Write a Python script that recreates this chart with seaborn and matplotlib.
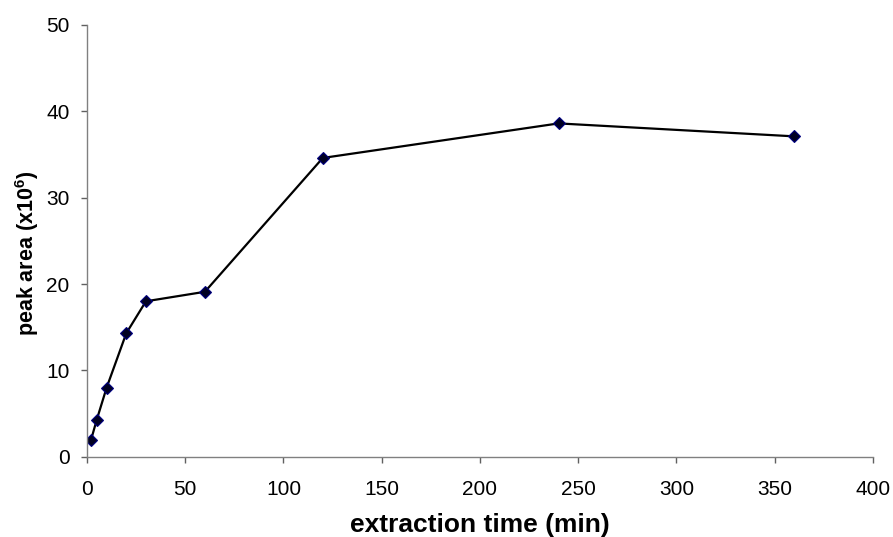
import pandas as pd
import seaborn as sns
import matplotlib
matplotlib.use('Agg')
import matplotlib.pyplot as plt

# values
time_min = [2, 5, 10, 20, 30, 60, 120, 240, 360]
peak_area = [1.9, 4.3, 8.0, 14.3, 18.0, 19.1, 34.6, 38.6, 37.1]

df = pd.DataFrame({'time': time_min, 'area': peak_area})

sns.set_style('ticks')
plt.rcParams['font.family'] = ['Liberation Sans', 'DejaVu Sans']
plt.rcParams['mathtext.fontset'] = 'custom'
plt.rcParams['mathtext.rm'] = 'Liberation Sans'
plt.rcParams['mathtext.bf'] = 'Liberation Sans:bold'

fig = plt.figure(figsize=(8.93, 5.37), dpi=100)
ax = fig.add_axes([0.0974, 0.1495, 0.8802, 0.804])

sns.lineplot(data=df, x='time', y='area', ax=ax, color='black', lw=1.6,
             marker='D', markersize=6, markerfacecolor='#000022',
             markeredgecolor='#000080', markeredgewidth=0.8)

ax.set_xlim(0, 400)
ax.set_ylim(0, 50)
ax.set_xticks(range(0, 401, 50))
ax.set_yticks(range(0, 51, 10))

for side in ['top', 'right']:
    ax.spines[side].set_visible(False)
for side in ['left', 'bottom']:
    ax.spines[side].set_color('#808080')
    ax.spines[side].set_linewidth(1.0)

ax.tick_params(axis='both', direction='out', length=4.5, width=1.0,
               color='#606060', labelsize=15, labelcolor='black')
ax.tick_params(axis='x', pad=12)
ax.tick_params(axis='y', pad=8)

ax.set_xlabel('extraction time (min)', fontsize=19, fontweight='bold',
              labelpad=10, color='black')
ax.set_ylabel(r'peak area (x10$^{\mathbf{6}}$)', fontsize=15.5, fontweight='bold',
              color='black')
ax.yaxis.set_label_coords(-0.058, 0.472)

fig.savefig('out.png', dpi=100)
